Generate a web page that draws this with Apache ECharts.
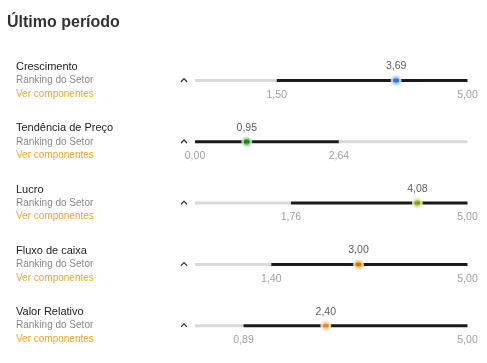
<!DOCTYPE html>
<html>
<head>
<meta charset="utf-8">
<script src="https://cdn.jsdelivr.net/npm/echarts@6/dist/echarts.min.js"></script>
<style>
  html, body { margin: 0; padding: 0; background: #fff; }
  #chart { width: 487px; height: 363px; }
</style>
</head>
<body>
<div id="chart"></div>
<script>
// dados
const indicadores = ['Crescimento', 'Tendência de Preço', 'Lucro', 'Fluxo de caixa', 'Valor Relativo'];
const valores = [3.69, 0.95, 4.08, 3.00, 2.40];
const minimos = [1.50, 0.00, 1.76, 1.40, 0.89];
const maximos = [5.00, 2.64, 5.00, 5.00, 5.00];
const escalaMax = 5;

// cores dos marcadores (núcleo e halo)
const coresMarcador = ['#3d8ef0', '#1f9d1f', '#9cc217', '#f59300', '#ffab4a'];
const coresHalo = ['#d3e4fb', '#cfe8cf', '#e8f1c6', '#fde3bf', '#ffe8cc'];

const FONTE = 'Liberation Sans, Arial, sans-serif';
const trilhoY = i => 80.5 + i * 61.3;
const fmt = v => v.toFixed(2).replace('.', ',');

const chart = echarts.init(document.getElementById('chart'), null, { renderer: 'canvas' });

const grid = [], xAxis = [], yAxis = [], series = [], graphic = [];

graphic.push({
  type: 'text', left: 7, top: 15,
  style: { text: 'Último período', font: 'bold 16px ' + FONTE, fill: '#333' }
});

indicadores.forEach((nome, i) => {
  const y = trilhoY(i);
  grid.push({ left: 195, width: 272.5, top: y - 10, height: 20 });
  xAxis.push({ type: 'value', gridIndex: i, min: 0, max: escalaMax, show: false });
  yAxis.push({ type: 'category', gridIndex: i, data: [nome], show: false });

  // trilho: cinza até o mínimo, preto entre mínimo e máximo, cinza até o fim
  const partes = [minimos[i], maximos[i] - minimos[i], escalaMax - maximos[i]];
  const cores = ['#d9d9d9', '#1a1a1a', '#d9d9d9'];
  partes.forEach((p, k) => {
    series.push({
      type: 'bar', xAxisIndex: i, yAxisIndex: i, stack: 'r' + i,
      barWidth: 3, silent: true, data: [p],
      itemStyle: { color: cores[k] }
    });
  });

  // rótulos de mínimo e máximo abaixo
  series.push({
    type: 'scatter', xAxisIndex: i, yAxisIndex: i, z: 3, silent: true,
    symbolSize: 1, itemStyle: { color: 'transparent' },
    data: [[minimos[i], 0], [maximos[i], 0]],
    label: {
      show: true, position: 'bottom', distance: 8.5,
      formatter: p => fmt(p.value[0]),
      fontFamily: FONTE, fontSize: 10.5, color: '#888'
    }
  });

  // marcador do valor
  series.push({
    type: 'scatter', xAxisIndex: i, yAxisIndex: i, z: 4, silent: true,
    symbolSize: 8.5,
    itemStyle: { color: coresMarcador[i], borderColor: coresHalo[i], borderWidth: 2.5 },
    data: [[valores[i], 0]],
    label: {
      show: true, position: 'top', distance: 3,
      formatter: p => fmt(p.value[0]),
      fontFamily: FONTE, fontSize: 10.5, color: '#333'
    }
  });

  // textos à esquerda
  graphic.push({
    type: 'text', x: 16, y: y - 13.5,
    style: { text: nome, font: '11px ' + FONTE, fill: '#222', verticalAlign: 'middle' }
  });
  graphic.push({
    type: 'text', x: 16, y: y,
    style: { text: 'Ranking do Setor', font: '10px ' + FONTE, fill: '#888', verticalAlign: 'middle' }
  });
  graphic.push({
    type: 'text', x: 16, y: y + 13.5,
    style: { text: 'Ver componentes', font: '10px ' + FONTE, fill: '#f5a623', verticalAlign: 'middle' }
  });
  // seta para cima
  graphic.push({
    type: 'polyline',
    shape: { points: [[181, y + 1.2], [184, y - 1.8], [187, y + 1.2]] },
    style: { stroke: '#333', lineWidth: 1.3, fill: null }
  });
});

chart.setOption({
  animation: false,
  grid, xAxis, yAxis, series, graphic
});

window.addEventListener('resize', () => chart.resize());
</script>
</body>
</html>
